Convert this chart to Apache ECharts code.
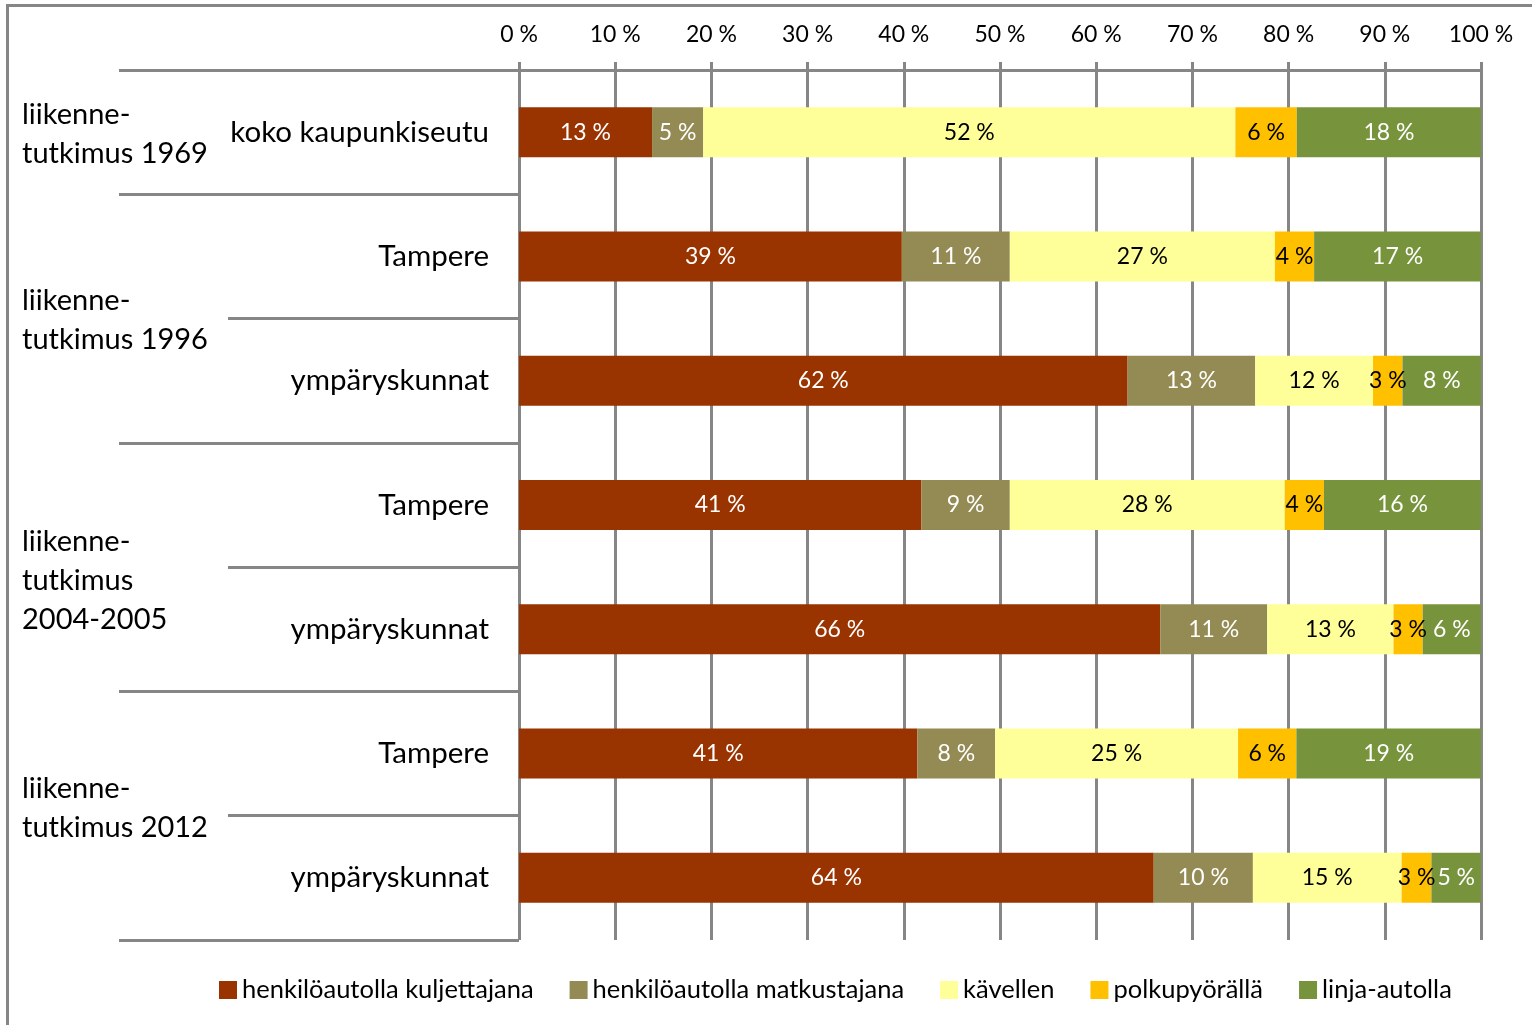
<!DOCTYPE html>
<html>
<head>
<meta charset="utf-8">
<script src="https://cdn.jsdelivr.net/npm/echarts@6/dist/echarts.min.js"></script>
<style>
  html, body { margin: 0; padding: 0; background: #fff; }
  #frame { position: absolute; left: 6px; top: 4px; width: 1540px; height: 1040px;
           border-left: 3px solid #868686; border-top: 3px solid #868686; }
  #chart { position: absolute; left: 0; top: 0; width: 1532px; height: 1025px; }
</style>
</head>
<body>
<div id="frame"></div>
<div id="chart"></div>
<script>
// rivit ylhäältä alas
const categories = ['koko kaupunkiseutu', 'Tampere', 'ympäryskunnat', 'Tampere', 'ympäryskunnat', 'Tampere', 'ympäryskunnat'];
const groupNames = ['liikenne-\ntutkimus 1969', 'liikenne-\ntutkimus 1996', 'liikenne-\ntutkimus\n2004-2005', 'liikenne-\ntutkimus 2012'];
const groupBounds = [0, 1, 3, 5, 7];
const groupLabelPos = [0.52, 2.01, 4.11, 5.94];

const seriesNames = ['henkilöautolla kuljettajana', 'henkilöautolla matkustajana', 'kävellen', 'polkupyörällä', 'linja-autolla'];
const driver    = [13, 39, 62, 41, 66, 41, 64];
const passenger = [5, 11, 13, 9, 11, 8, 10];
const walking   = [52, 27, 12, 28, 13, 25, 15];
const cycling   = [6, 4, 3, 4, 3, 6, 3];
const bus       = [18, 17, 8, 16, 6, 19, 5];

const colors = ['#993300', '#948A54', '#FFFF99', '#FFC000', '#77933C'];
const labelColors = ['#fff', '#fff', '#000', '#000', '#fff'];
const lineColor = '#868686';
const font = 'Lato, "Open Sans", sans-serif';

const allValues = [driver, passenger, walking, cycling, bus];
const totals = categories.map((_, i) => allValues.reduce((s, arr) => s + arr[i], 0));

const chart = echarts.init(document.getElementById('chart'));

const series = allValues.map((vals, k) => ({
  name: seriesNames[k],
  type: 'bar',
  stack: 'total',
  barWidth: 50,
  xAxisIndex: 0,
  yAxisIndex: 0,
  itemStyle: { color: colors[k] },
  label: {
    show: true,
    position: 'inside',
    color: labelColors[k],
    fontFamily: font,
    fontSize: 23,
    formatter: p => vals[p.dataIndex] + ' %'
  },
  data: vals.map((v, i) => v / totals[i] * 100)
}));

chart.setOption({
  animation: false,
  textStyle: { fontFamily: font },
  grid: { left: 519, right: 51, top: 70, bottom: 85 },
  legend: {
    left: 214,
    top: 972,
    itemWidth: 18,
    itemHeight: 18,
    itemGap: 36,
    icon: 'rect',
    textStyle: { fontSize: 25.5, color: '#000', fontFamily: font },
    data: seriesNames
  },
  xAxis: {
    type: 'value',
    position: 'top',
    min: 0,
    max: 100,
    interval: 10,
    axisLine: { show: true, lineStyle: { color: lineColor, width: 3 } },
    axisTick: { show: true, length: 8, lineStyle: { color: lineColor, width: 3 } },
    splitLine: { show: true, lineStyle: { color: lineColor, width: 3 } },
    axisLabel: { formatter: '{value} %', fontSize: 23, color: '#000', margin: 24 }
  },
  yAxis: [
    {
      type: 'category',
      inverse: true,
      data: categories,
      axisLine: { show: false },
      axisTick: { show: true, length: 291, lineStyle: { color: lineColor, width: 3 } },
      axisLabel: { fontSize: 29.5, color: '#000', margin: 30 }
    },
    {
      type: 'value',
      inverse: true,
      min: 0,
      max: 7,
      position: 'left',
      axisLine: { show: false },
      splitLine: { show: false },
      axisTick: { show: true, length: 400, customValues: groupBounds, lineStyle: { color: lineColor, width: 3 } },
      axisLabel: {
        customValues: groupLabelPos,
        align: 'left',
        margin: 497,
        fontSize: 29,
        lineHeight: 39,
        color: '#000',
        formatter: v => groupNames[groupLabelPos.indexOf(v)] || ''
      }
    }
  ],
  series: series
});
</script>
</body>
</html>
